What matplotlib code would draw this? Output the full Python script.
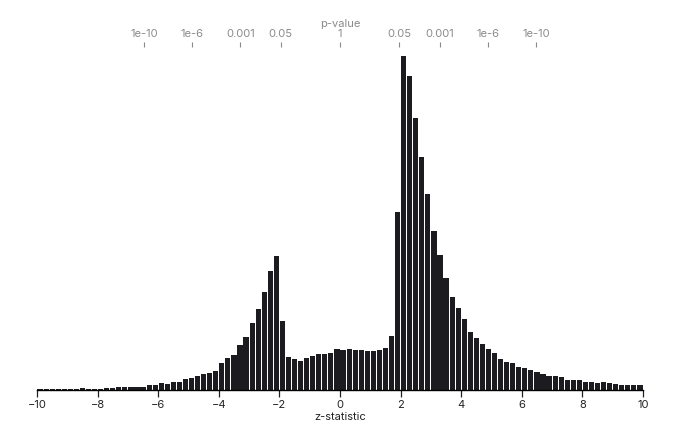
from statistics import NormalDist
import numpy as np
import matplotlib
matplotlib.use("Agg")
import matplotlib.pyplot as plt

plt.rcParams["font.family"] = ["Inter", "DejaVu Sans"]

# histogram of z-statistics, bins of width 0.2 from -10 to 10 (heights)
bin_edges = np.linspace(-10, 10, 101)
counts_neg = [
    0.7, 1.0, 1.0, 0.7, 0.7, 0.7, 0.7, 2.0, 1.0, 1.3,
    1.0, 1.7, 2.0, 3.0, 2.7, 3.3, 3.3, 2.7, 5.3, 5.0,
    7.0, 6.3, 7.7, 7.7, 11.3, 11.7, 13.7, 16.3, 17.3, 19.3,
    26.7, 32.0, 35.3, 45.0, 52.7, 66.7, 81.3, 98.3, 119.3, 133.7,
    69.0, 33.0, 30.7, 29.3, 32.0, 33.7, 35.7, 36.3, 37.3, 41.0,
]
counts_pos = [
    39.7, 40.7, 40.0, 40.3, 38.7, 38.7, 39.7, 42.3, 53.7, 178.0,
    333.7, 313.7, 272.0, 232.3, 195.7, 159.0, 135.3, 112.3, 93.0, 81.7,
    71.3, 57.7, 52.0, 46.0, 40.5, 36.5, 31.3, 27.8, 26.5, 23.3,
    22.3, 19.8, 17.5, 15.8, 14.0, 13.6, 12.5, 10.0, 9.6, 10.3,
    8.3, 8.0, 6.5, 7.5, 7.0, 5.8, 5.2, 5.2, 4.8, 4.8,
]
counts = np.array(counts_neg + counts_pos)

# two-sided p-values shown on the top axis
p_labels = ["1e-10", "1e-6", "0.001", "0.05", "1", "0.05", "0.001", "1e-6", "1e-10"]
p_values = [1e-10, 1e-6, 0.001, 0.05, 1.0, 0.05, 0.001, 1e-6, 1e-10]
p_sides = [-1, -1, -1, -1, 0, 1, 1, 1, 1]

nd = NormalDist()
p_z = [s * nd.inv_cdf(1 - p / 2) if s else 0.0 for p, s in zip(p_values, p_sides)]

fig = plt.figure(figsize=(6.8, 4.37), dpi=100)
ax = fig.add_axes([37 / 680, 1 - 390 / 437, 606 / 680, 343 / 437])

bw = bin_edges[1] - bin_edges[0]
ax.bar(bin_edges[:-1] + 0.015, counts, width=bw - 0.03, align="edge",
       color="#1c1c20", linewidth=0)

ax.set_xlim(-10, 10)
ax.set_ylim(0, counts.max() * 343 / 334)
ax.set_yticks([])
for s in ["left", "right", "top"]:
    ax.spines[s].set_visible(False)
ax.spines["bottom"].set_linewidth(1.0)
ax.set_xticks(np.arange(-10, 11, 2))
ax.tick_params(axis="x", length=5, width=0.9, labelsize=8, pad=2, colors="#222222")
ax.set_xlabel("z-statistic", fontsize=8, color="#222222", labelpad=2)

top = ax.secondary_xaxis("top")
top.set_xticks(p_z)
top.set_xticklabels(p_labels)
top.tick_params(axis="x", length=3.5, width=0.8, labelsize=8, pad=2,
                colors="#8a8a8a")
top.spines["top"].set_visible(False)
top.set_xlabel("p-value", fontsize=8, color="#8a8a8a", labelpad=2)

fig.savefig("out.png", dpi=100)
